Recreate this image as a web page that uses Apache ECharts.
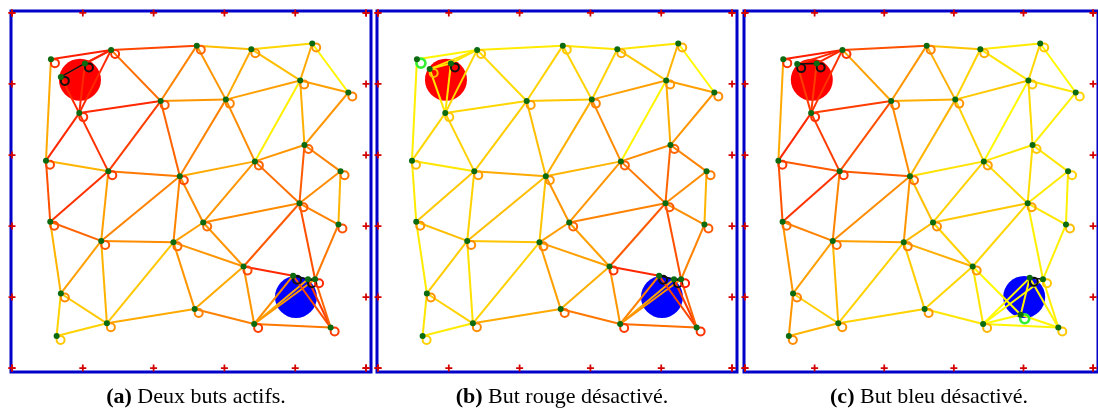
<!DOCTYPE html>
<html><head><meta charset="utf-8">
<script src="https://cdn.jsdelivr.net/npm/echarts@6/dist/echarts.min.js"></script>
<style>html,body{margin:0;padding:0;background:#fff}#c{width:1098px;height:414px}</style>
</head><body><div id="c"></div>
<script>
// ---------- data ----------
const PANEL_LABELS = ['(a)', '(b)', '(c)'];
const PANEL_CAPTIONS = ['Deux buts actifs.', 'But rouge désactivé.', 'But bleu désactivé.'];
const TICKS = [0, 1, 2, 3, 4, 5];

// node positions (arena units), panel (a)
const NODE_X = [0.55,1.40,1.03,0.69,0.95,2.10,0.48,1.36,2.37,2.61,3.38,4.24,4.07,4.75,3.02,4.13,3.43,4.64,0.54,1.26,2.28,2.70,4.06,4.61,3.27,0.69,1.34,0.63,2.58,3.42,4.50,3.97,4.18,4.28];
const NODE_Y = [4.35,4.48,4.29,4.10,3.59,3.76,2.92,2.77,2.70,4.54,4.49,4.57,4.05,3.88,3.78,3.14,2.91,2.77,2.06,1.79,1.77,2.05,2.32,2.02,1.43,1.05,0.63,0.45,0.83,0.62,0.57,1.30,1.25,1.25];
// nodes that sit elsewhere in panels (b) and (c)
const MOVED_B_IDX = [3];
const MOVED_B_X = [0.73];
const MOVED_B_Y = [4.21];
const MOVED_C_IDX = [3, 31, 32];
const MOVED_C_X = [0.75, 3.96, 4.09];
const MOVED_C_Y = [4.28, 0.75, 1.27];

const EDGE_FROM = [0,1,1,1,2,3,0,4,4,4, 1,1,5,5,5,5,6,6,7,7, 7,8,8,8,8,8,9,9,10,10, 10,11,11,12,12,12,12,13,14,15, 15,15,16,16,17,17,18,18,19,19, 19,20,20,20,20,21,21,22,22,22, 23,24,24,24,25,25,26,26,28,29, 29,29,29,30,30,30,31,32,2];
const EDGE_TO   = [1,2,3,4,4,4,6,5,6,7, 5,9,7,8,9,14,7,18,8,18, 19,19,20,21,14,16,10,14,11,14, 12,12,13,13,14,15,16,15,16,16, 17,22,21,22,22,23,19,25,20,25, 26,21,24,26,28,22,24,23,24,33, 33,28,29,31,26,27,27,28,29,30, 31,32,33,31,32,33,32,33,3];
// edge level (green channel of red→yellow ramp, 'k' = black)
const EDGE_A = [30,30,35,40,40,40,170,40,40,50, 110,70,60,100,130,150,180,80,120,50, 160,130,130,140,130,170,190,150,215,170, 190,170,245,160,160,175,240,150,140,150, 130,90,150,110,140,180,100,180,140,160, 180,160,150,200,150,140,150,130,90,80, 120,170,150,40,200,210,210,170,130,120, 140,170,150,80,60,100,'k','k','k'];
const EDGE_B = [245,230,230,215,230,230,240,215,215,210, 220,235,205,190,210,200,230,235,170,200, 210,190,195,150,175,180,230,210,230,210, 200,180,250,160,160,175,245,150,140,140, 130,100,150,120,140,180,190,235,195,205, 225,160,160,210,160,130,160,140,90,80, 130,175,150,40,210,230,235,170,120,110, 130,165,145,70,60,100,'k','k',230];
const EDGE_C = [30,40,40,50,60,60,170,60,40,60, 160,80,80,140,150,175,90,80,90,50, 130,140,150,190,180,225,195,175,235,210, 230,215,250,230,200,220,250,240,210,230, 230,220,210,220,235,240,130,150,160,160, 185,185,175,210,205,200,210,230,215,240, 240,215,230,250,205,150,180,210,230,245, 250,250,250,245,245,240,240,'k','k'];
// node ring level ('k' = black, 'g' = green)
const RING_A = [50,50,'k','k',50,90,70,60,70,100,140,150,140,130,130,100,100,120,80,90,110,110,90,80,70,140,150,200,130,60,60,'k','k',40];
const RING_B = ['g',200,'k',190,200,160,190,160,150,200,175,175,150,140,130,100,100,120,150,140,130,100,90,90,50,150,140,210,100,60,50,'k','k',30];
const RING_C = [50,50,'k','k',50,120,60,60,110,130,175,200,200,210,150,200,160,210,110,110,130,140,160,190,150,130,150,140,150,180,200,'g','k',200];

const RED_GOAL = [0.96, 4.06];
const BLUE_GOAL = [4.01, 1.00];

// ---------- layout / style ----------
const PANEL_LEFT = [11, 377, 744];
const PANEL_TOP = 11, PANEL_W = 360, PANEL_H = 361;
const X_MIN = -0.014, X_MAX = 5.07, Y_MIN = -0.056, Y_MAX = 5.028;
const FONT = 'Liberation Serif';

function lvlColor(g) {
  if (g === 'k') return '#111111';
  if (g === 'g') return '#33ee33';
  return 'rgb(255,' + g + ',0)';
}

function panelNodes(p) {
  const xs = NODE_X.slice(), ys = NODE_Y.slice();
  const mv = p === 1 ? [MOVED_B_IDX, MOVED_B_X, MOVED_B_Y] : p === 2 ? [MOVED_C_IDX, MOVED_C_X, MOVED_C_Y] : [[], [], []];
  mv[0].forEach((idx, k) => { xs[idx] = mv[1][k]; ys[idx] = mv[2][k]; });
  return xs.map((x, i) => [x, ys[i]]);
}

const EDGES = [EDGE_A, EDGE_B, EDGE_C];
const RINGS = [RING_A, RING_B, RING_C];

const grids = [], xAxes = [], yAxes = [], series = [], titles = [];
const PLUS = 'path://M3,0H5V3H8V5H5V8H3V5H0V3H3Z';

for (let p = 0; p < 3; p++) {
  grids.push({left: PANEL_LEFT[p], top: PANEL_TOP, width: PANEL_W, height: PANEL_H,
    show: true, borderColor: '#0000c8', borderWidth: 3, backgroundColor: 'transparent'});
  xAxes.push({gridIndex: p, type: 'value', min: X_MIN, max: X_MAX, show: false});
  yAxes.push({gridIndex: p, type: 'value', min: Y_MIN, max: Y_MAX, show: false});
  const nodes = panelNodes(p);
  const base = {xAxisIndex: p, yAxisIndex: p, silent: true, animation: false};

  series.push(Object.assign({}, base, {
    type: 'scatter', z: 1, symbolSize: 42, clip: false,
    data: [{value: RED_GOAL, itemStyle: {color: '#ff0000', opacity: 1}}, {value: BLUE_GOAL, itemStyle: {color: '#0000ff', opacity: 1}}]
  }));
  series.push(Object.assign({}, base, {
    type: 'lines', coordinateSystem: 'cartesian2d', z: 2,
    lineStyle: {width: 2, opacity: 1},
    data: EDGE_FROM.map((f, i) => ({
      coords: [nodes[f], nodes[EDGE_TO[i]]],
      lineStyle: {color: lvlColor(EDGES[p][i]), width: EDGES[p][i] === 'k' ? 1.5 : 2, opacity: 1}
    }))
  }));
  series.push(Object.assign({}, base, {
    type: 'scatter', z: 3, clip: false, symbolOffset: [4, 4],
    data: nodes.map((n, i) => {
      const r = RINGS[p][i];
      return {value: n, symbolSize: r === 'g' ? 9 : 8,
        itemStyle: {color: 'rgba(0,0,0,0)', borderColor: lvlColor(r), borderWidth: r === 'g' ? 2.6 : 2, opacity: 1}};
    })
  }));
  series.push(Object.assign({}, base, {
    type: 'scatter', z: 4, clip: false, symbolSize: 6,
    itemStyle: {color: '#0b6b10', opacity: 1},
    data: nodes
  }));
  const ticks = [];
  TICKS.forEach(t => { ticks.push([t, 0], [t, 5], [0, t], [5, t]); });
  series.push(Object.assign({}, base, {
    type: 'scatter', z: 5, clip: false, symbol: PLUS, symbolSize: 7,
    itemStyle: {color: '#d40000', opacity: 1}, data: ticks
  }));
  titles.push({
    left: PANEL_LEFT[p] + PANEL_W / 2, top: 381, textAlign: 'center',
    text: '{b|' + PANEL_LABELS[p] + '} ' + PANEL_CAPTIONS[p],
    textStyle: {fontFamily: FONT, fontSize: 22, fontWeight: 'normal', color: '#000',
      rich: {b: {fontFamily: FONT, fontSize: 22, fontWeight: 'bold', color: '#000'}}}
  });
}

const chart = echarts.init(document.getElementById('c'), null, {renderer: 'canvas'});
chart.setOption({
  animation: false,
  backgroundColor: '#ffffff',
  title: titles,
  grid: grids, xAxis: xAxes, yAxis: yAxes, series: series
});
</script></body></html>
